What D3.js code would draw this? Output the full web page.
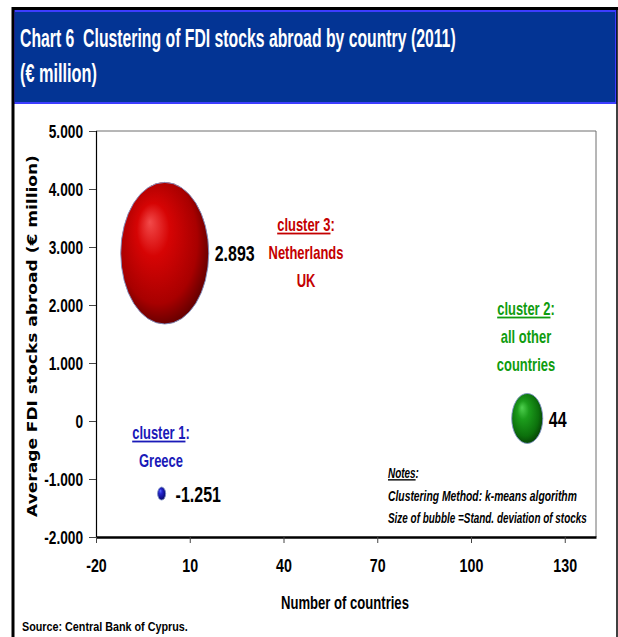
<!DOCTYPE html>
<html>
<head>
<meta charset="utf-8">
<script src="https://cdn.jsdelivr.net/npm/d3@7"></script>
<style>
  html, body { margin: 0; padding: 0; background: #fff; }
  svg { display: block; }
  text { font-family: "Liberation Sans", Arial, sans-serif; font-weight: bold; }
</style>
</head>
<body>
<script>
// ---- data ----
const clusterNames = ["cluster 1", "cluster 2", "cluster 3"];
const clusterMembers = [["Greece"], ["all other", "countries"], ["Netherlands", "UK"]];
const countryCounts = [1, 118, 2];              // number of countries in each cluster
const avgStocks = [-1251, 44, 2893];            // average FDI stocks abroad, € million
const stockStdDev = [36, 535, 4300];            // bubble size: st. deviation of stocks
const xTickValues = [-20, 10, 40, 70, 100, 130];
const yTickValues = [-2000, -1000, 0, 1000, 2000, 3000, 4000, 5000];

// ---- styling ----
const clusterColors = ["#1a1ab8", "#0f9c0f", "#c40000"];
const bubbleShades = [
  ["#5a6cff", "#2626d0", "#10108a", "#03033f"],
  ["#4fd04f", "#1c9c1c", "#0c700c", "#043204"],
  ["#f24a4a", "#d60404", "#a80000", "#4a0000"]
];
const NARROW = 0.74; // horizontal squeeze giving a condensed bold face

const W = 618, H = 637;
const plot = { left: 96, right: 596, top: 131, bottom: 537 };

// German-style number formatting: 2.893, -1.251
const locale = d3.formatLocale({ decimal: ",", thousands: ".", grouping: [3], currency: ["€", ""], minus: "-" });
const fmt = locale.format(",d");

// squeeze a text horizontally about its own anchor x
function squeeze(sel, factor) {
  sel.each(function () {
    const t = d3.select(this);
    const x0 = +t.attr("x") || 0;
    const prev = t.attr("transform") || "";
    t.attr("transform", `${prev} translate(${x0},0) scale(${factor},1) translate(${-x0},0)`);
  });
}
// squeeze a text so that it spans a given width
function fitWidth(sel, width) {
  sel.each(function () {
    const natural = this.getComputedTextLength();
    squeeze(d3.select(this), width / natural);
  });
}

const svg = d3.select("body").append("svg").attr("width", W).attr("height", H);

// bubble gradients
const defs = svg.append("defs");
bubbleShades.forEach((s, i) => {
  const g = defs.append("radialGradient").attr("id", "bub" + i)
    .attr("cx", 0.46).attr("cy", 0.46).attr("r", 0.62).attr("fx", 0.33).attr("fy", 0.28);
  g.append("stop").attr("offset", "0%").attr("stop-color", s[0]);
  g.append("stop").attr("offset", "30%").attr("stop-color", s[1]);
  g.append("stop").attr("offset", "72%").attr("stop-color", s[2]);
  g.append("stop").attr("offset", "100%").attr("stop-color", s[3]);
});

// ---- outer frame and header ----
svg.append("rect").attr("x", 14).attr("y", 11).attr("width", 602).attr("height", 92)
  .attr("fill", "#033494").attr("stroke", "#3d3dff").attr("stroke-width", 2);
svg.append("line").attr("x1", 12).attr("x2", 618).attr("y1", 8.5).attr("y2", 8.5)
  .attr("stroke", "#000").attr("stroke-width", 3);
svg.append("line").attr("x1", 13).attr("x2", 13).attr("y1", 7).attr("y2", H)
  .attr("stroke", "#000").attr("stroke-width", 3);
svg.append("line").attr("x1", 617).attr("x2", 617).attr("y1", 7).attr("y2", H)
  .attr("stroke", "#000").attr("stroke-width", 1.5);

svg.append("text").attr("x", 20).attr("y", 47).attr("fill", "#fff")
  .attr("font-size", 25).attr("xml:space", "preserve")
  .text("Chart 6  Clustering of FDI stocks abroad by country (2011)")
  .call(fitWidth, 436);
svg.append("text").attr("x", 20).attr("y", 82).attr("fill", "#fff")
  .attr("font-size", 25)
  .text("(€ million)")
  .call(fitWidth, 77);

// ---- scales ----
const x = d3.scaleLinear().domain([-20, 140]).range([plot.left, plot.right]);
const y = d3.scaleLinear().domain([-2000, 5000]).range([plot.bottom, plot.top]);
const r = d3.scaleSqrt().domain([0, d3.max(stockStdDev)]).range([0, 44]);
const aspect = 1.61; // bubbles are drawn stretched vertically

// plot border (top and right)
svg.append("path")
  .attr("d", `M${plot.left},${plot.top}H${plot.right}V${plot.bottom}`)
  .attr("fill", "none").attr("stroke", "#6e6e6e").attr("stroke-width", 1);

// y axis
const yAxis = svg.append("g").attr("transform", `translate(${plot.left},0)`)
  .call(d3.axisLeft(y).tickValues(yTickValues).tickSize(7).tickPadding(6)
    .tickFormat(d => d === 0 ? "0" : fmt(d)));
yAxis.select(".domain").attr("stroke", "#000").attr("stroke-width", 1.2);
yAxis.selectAll(".tick line").attr("stroke", "#444");
yAxis.selectAll("text").attr("font-size", 18.5).attr("fill", "#000")
  .attr("font-family", null).attr("dy", "0.36em")
  .call(squeeze, NARROW);

// x axis
const xAxis = svg.append("g").attr("transform", `translate(0,${plot.bottom})`)
  .call(d3.axisBottom(x).tickValues(xTickValues).tickSize(6).tickSizeOuter(0).tickPadding(16)
    .tickFormat(d => fmt(d)));
xAxis.select(".domain").attr("stroke", "#000").attr("stroke-width", 2.4);
xAxis.selectAll(".tick line").attr("stroke", "#444");
xAxis.selectAll("text").attr("font-size", 18.5).attr("fill", "#000").attr("font-family", null)
  .call(squeeze, NARROW + 0.03);

// axis titles
svg.append("text").attr("x", 345).attr("y", 609).attr("text-anchor", "middle")
  .attr("font-size", 19)
  .text("Number of countries")
  .call(fitWidth, 128);
const yTitle = svg.append("text")
  .attr("transform", "translate(37,336) rotate(-90)")
  .attr("text-anchor", "middle").attr("font-size", 13.5)
  .style("font-family", "'DejaVu Sans', Verdana, sans-serif")
  .text("Average FDI stocks abroad (€ million)");
yTitle.call(fitWidth, 362);

// source
svg.append("text").attr("x", 22).attr("y", 631).attr("font-size", 13.5)
  .text("Source: Central Bank of Cyprus.")
  .call(fitWidth, 166);

// ---- bubbles ----
const idx = d3.range(clusterNames.length);
svg.append("g").selectAll("ellipse").data(idx).join("ellipse")
  .attr("cx", i => x(countryCounts[i]))
  .attr("cy", i => y(avgStocks[i]))
  .attr("rx", i => r(stockStdDev[i]))
  .attr("ry", i => r(stockStdDev[i]) * aspect)
  .attr("fill", i => `url(#bub${i})`)
  .attr("stroke", "#7f93c6").attr("stroke-width", 0.9);

// value labels beside bubbles
svg.append("g").selectAll("text").data(idx).join("text")
  .attr("x", i => x(countryCounts[i]) + Math.max(r(stockStdDev[i]), 8) + 6)
  .attr("y", i => y(avgStocks[i]))
  .attr("dy", "0.36em")
  .attr("font-size", 22.5).attr("fill", "#000")
  .text(i => fmt(avgStocks[i]))
  .call(squeeze, NARROW - 0.03);

// ---- cluster annotations ----
const annot = [
  { x: 161, y: 433 },   // cluster 1
  { x: 526, y: 309 },   // cluster 2
  { x: 306, y: 225 }    // cluster 3
];
idx.forEach(i => {
  const g = svg.append("g").attr("fill", clusterColors[i]).attr("font-size", 18)
    .attr("text-anchor", "middle");
  const t = g.append("text").attr("x", annot[i].x).attr("y", annot[i].y).attr("dy", "0.36em");
  t.append("tspan").style("text-decoration", "underline").text(clusterNames[i]);
  t.append("tspan").text(":");
  clusterMembers[i].forEach((m, k) => {
    g.append("text").attr("x", annot[i].x).attr("y", annot[i].y + 28 * (k + 1))
      .attr("dy", "0.36em").text(m);
  });
  g.selectAll("text").call(squeeze, NARROW - 0.02);
});

// ---- notes ----
const notes = svg.append("g").attr("font-size", 14).attr("font-style", "italic").attr("fill", "#000");
const notesHead = notes.append("text").attr("x", 388).attr("y", 478);
notesHead.append("tspan").style("text-decoration", "underline").text("Notes");
notesHead.append("tspan").text(":");
notesHead.call(fitWidth, 31);
notes.append("text").attr("x", 388).attr("y", 501)
  .text("Clustering Method: k-means algorithm")
  .call(fitWidth, 189);
notes.append("text").attr("x", 388).attr("y", 523)
  .text("Size of bubble =Stand. deviation of stocks")
  .call(fitWidth, 199);
</script>
</body>
</html>
